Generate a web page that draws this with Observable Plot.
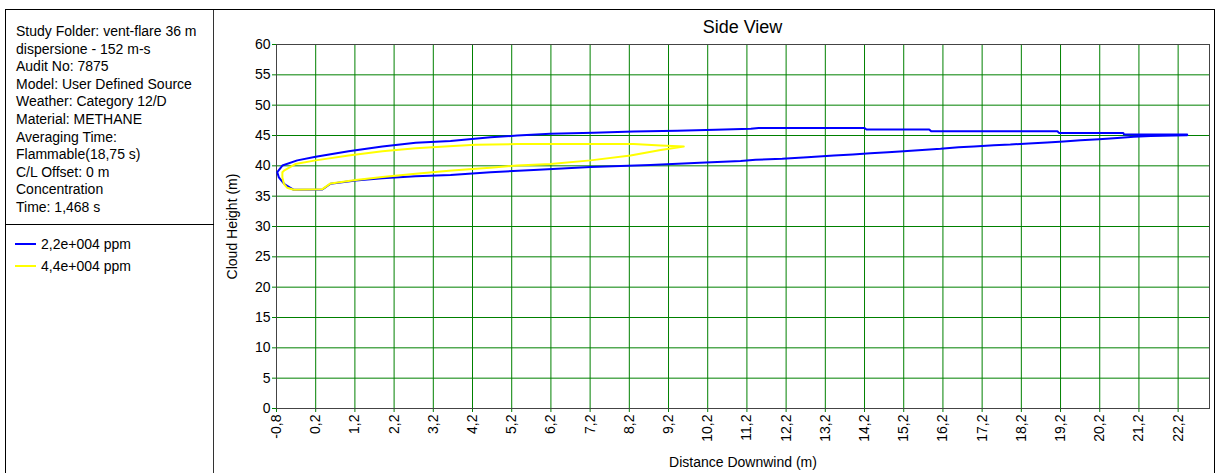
<!DOCTYPE html>
<html>
<head>
<meta charset="utf-8">
<script src="https://cdn.jsdelivr.net/npm/d3@7"></script>
<script src="https://cdn.jsdelivr.net/npm/@observablehq/plot@0.6"></script>
<style>
  html, body { margin: 0; padding: 0; background: #fff; width: 1217px; height: 473px; overflow: hidden; }
  body { position: relative; font-family: "Liberation Sans", Arial, sans-serif; color: #000; }
  .abs { position: absolute; }
  #outer { left: 5px; top: 9px; width: 1210px; height: 480px; border: 1px solid #000; border-bottom: none; box-sizing: border-box; }
  #vdiv { left: 213px; top: 10px; width: 1px; height: 470px; background: #333; }
  #hdiv { left: 5px; top: 224px; width: 209px; height: 1px; background: #000; }
  #info { left: 16px; top: 23px; font-size: 14px; line-height: 17.6px; white-space: pre; }
  #legend { left: 15px; top: 233px; font-size: 14px; }
  .item { position: relative; height: 22px; line-height: 22px; padding-left: 26px; }
  .swatch { position: absolute; left: 0; top: 10px; width: 21px; height: 2px; }
  #title { left: 276px; width: 933px; top: 17px; text-align: center; font-size: 18px; }
  #chart { left: 214px; top: 10px; }
</style>
</head>
<body>
<div id="outer" class="abs"></div>
<div id="vdiv" class="abs"></div>
<div id="hdiv" class="abs"></div>
<div id="info" class="abs"></div>
<div id="legend" class="abs"></div>
<div id="title" class="abs">Side View</div>
<div id="chart" class="abs"></div>
<script>
// ---- Data ----
const infoLines = [
  "Study Folder: vent-flare 36 m",
  "dispersione - 152 m-s",
  "Audit No: 7875",
  "Model: User Defined Source",
  "Weather: Category 12/D",
  "Material: METHANE",
  "Averaging Time:",
  "Flammable(18,75 s)",
  "C/L Offset: 0 m",
  "Concentration",
  "Time: 1,468 s"
];
const seriesNames = ["2,2e+004 ppm", "4,4e+004 ppm"];
const seriesColors = ["#0000ff", "#ffff00"];
const xTicks = [-0.8, 0.2, 1.2, 2.2, 3.2, 4.2, 5.2, 6.2, 7.2, 8.2, 9.2, 10.2, 11.2, 12.2, 13.2, 14.2, 15.2, 16.2, 17.2, 18.2, 19.2, 20.2, 21.2, 22.2];
const yTicks = [0, 5, 10, 15, 20, 25, 30, 35, 40, 45, 50, 55, 60];

// 2,2e+004 ppm contour (x = distance downwind m, y = cloud height m)
const contourLow = [
  [-0.78, 38.95], [-0.65, 40.05], [-0.27, 40.9], [0.2, 41.5], [1.04, 42.4], [1.9, 43.2],
  [2.75, 43.8], [3.64, 44.1], [4.66, 44.7], [5.34, 45.0], [6.19, 45.3], [7.29, 45.45],
  [8.31, 45.65], [9.42, 45.8], [10.4, 45.95], [11.3, 46.1], [11.5, 46.25], [14.2, 46.25],
  [14.25, 46.0], [15.85, 46.0], [15.9, 45.7], [19.12, 45.7], [19.16, 45.43], [20.8, 45.43],
  [20.82, 45.16], [22.43, 45.16],
  [22.43, 45.05], [21.5, 44.9], [21.07, 44.8], [20.65, 44.6], [20.18, 44.4], [19.71, 44.2],
  [19.28, 44.0], [18.86, 43.84], [18.39, 43.7], [17.92, 43.5], [17.5, 43.4], [16.99, 43.2],
  [16.6, 43.07], [16.14, 42.8], [15.67, 42.6], [15.2, 42.4], [14.8, 42.25], [14.35, 42.08],
  [13.9, 41.87], [13.42, 41.7], [12.74, 41.4], [12.1, 41.15], [11.42, 41.0], [11.04, 40.8],
  [10.0, 40.5], [8.74, 40.15], [7.21, 39.8], [5.76, 39.3], [4.66, 38.95], [3.64, 38.5],
  [2.75, 38.3], [1.9, 37.95], [1.22, 37.6], [0.58, 37.05], [0.37, 36.1], [-0.36, 36.05],
  [-0.6, 37.0], [-0.74, 38.1], [-0.78, 38.95]
];
// 4,4e+004 ppm contour
const contourHigh = [
  [-0.65, 38.95], [-0.61, 39.2], [-0.32, 40.3], [0.2, 40.9], [1.04, 41.7], [1.9, 42.4],
  [2.75, 42.9], [3.6, 43.24], [4.28, 43.46], [5.34, 43.6], [8.31, 43.6], [9.0, 43.35],
  [9.59, 43.2],
  [9.0, 42.6], [8.23, 41.7], [7.21, 40.9], [6.19, 40.3], [5.34, 40.05], [4.66, 39.7],
  [4.28, 39.5], [3.6, 39.2], [2.75, 38.7], [1.9, 38.15], [1.22, 37.65], [0.58, 37.1],
  [0.37, 36.15], [-0.36, 36.05], [-0.53, 36.4], [-0.61, 37.0], [-0.65, 38.1], [-0.65, 38.95]
];

// ---- Left panel ----
document.getElementById("info").textContent = infoLines.join("\n");
const legend = document.getElementById("legend");
seriesNames.forEach((name, i) => {
  const it = document.createElement("div");
  it.className = "item";
  const sw = document.createElement("span");
  sw.className = "swatch";
  sw.style.background = seriesColors[i];
  it.appendChild(sw);
  it.appendChild(document.createTextNode(name));
  legend.appendChild(it);
});

// ---- Chart ----
const fmt = d => d.toFixed(1).replace(".", ",");
const green = "#008000";
const chart = Plot.plot({
  width: 1002,
  height: 463,
  marginLeft: 62,
  marginRight: 7,
  marginTop: 34,
  marginBottom: 65,
  style: { fontFamily: "Liberation Sans, Arial, sans-serif", fontSize: "14px", background: "transparent", color: "#000" },
  x: { domain: [-0.8, 23.0] },
  y: { domain: [0, 60] },
  marks: [
    Plot.gridX(xTicks, { stroke: green, strokeOpacity: 1, strokeWidth: 1 }),
    Plot.gridY(yTicks, { stroke: green, strokeOpacity: 1, strokeWidth: 1 }),
    Plot.axisY(yTicks, { tickSize: 4, stroke: green, fill: "#000", tickPadding: 2, fontSize: 14,
      label: "Cloud Height (m)", labelAnchor: "center", labelArrow: "none", labelOffset: 49 }),
    Plot.axisX(xTicks, { tickSize: 4, stroke: green, fill: "#000", tickRotate: -90, tickFormat: fmt, tickPadding: 2, fontSize: 14,
      label: "Distance Downwind (m)", labelAnchor: "center", labelArrow: "none", labelOffset: 58 }),
    Plot.frame({ stroke: "#444" }),
    Plot.line(contourLow, { x: d => d[0], y: d => d[1], stroke: seriesColors[0], strokeWidth: 2, curve: "linear" }),
    Plot.line(contourHigh, { x: d => d[0], y: d => d[1], stroke: seriesColors[1], strokeWidth: 2, curve: "linear" })
  ]
});
document.getElementById("chart").appendChild(chart);
</script>
</body>
</html>
